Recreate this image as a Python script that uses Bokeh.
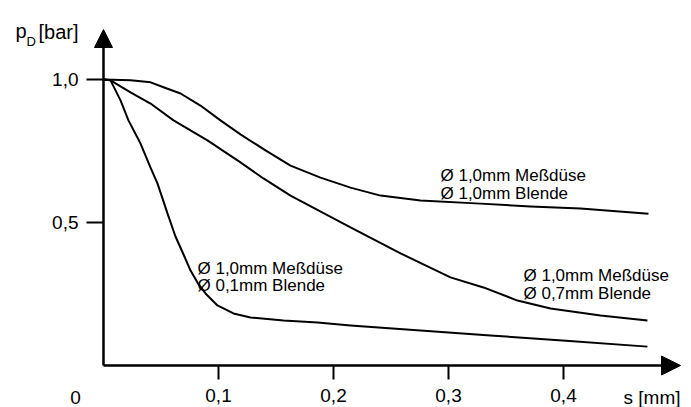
from bokeh.plotting import figure
from bokeh.models import (LinearAxis, FixedTicker, CustomJSTickFormatter, Arrow,
                          NormalHead, Label, Range1d, ColumnDataSource)
from bokeh.core.properties import value
from bokeh.embed import file_html
from bokeh.resources import INLINE

# ---------------- data ----------------
s_a = [0, 0.0235, 0.041, 0.0522, 0.0670, 0.0843, 0.1017, 0.1191, 0.1409, 0.1626, 0.1887,
       0.2148, 0.2409, 0.2757, 0.3278, 0.3713, 0.4148, 0.4739]
p_a = [1.0, 0.997, 0.99, 0.973, 0.951, 0.909, 0.857, 0.808, 0.752, 0.699, 0.657,
       0.622, 0.594, 0.577, 0.566, 0.556, 0.549, 0.531]

s_b = [0, 0.0061, 0.0235, 0.0409, 0.0609, 0.0904, 0.1191, 0.1391, 0.1626, 0.2148, 0.2583,
       0.3017, 0.3304, 0.3600, 0.3887, 0.4322, 0.4730]
p_b = [1.0, 0.997, 0.955, 0.916, 0.857, 0.787, 0.710, 0.654, 0.594, 0.483, 0.392,
       0.308, 0.273, 0.227, 0.199, 0.175, 0.157]

s_c = [0, 0.0061, 0.0148, 0.0217, 0.0322, 0.0409, 0.0470, 0.0557, 0.0626, 0.0696, 0.0757,
       0.0817, 0.0887, 0.0991, 0.1130, 0.1278, 0.1565, 0.1861, 0.2148, 0.2757, 0.3365,
       0.3991, 0.4730]
p_c = [1.0, 0.997, 0.927, 0.857, 0.776, 0.692, 0.636, 0.531, 0.451, 0.388, 0.332,
       0.290, 0.252, 0.210, 0.182, 0.168, 0.157, 0.150, 0.140, 0.122, 0.105,
       0.087, 0.066]

x_ticks = [0.1, 0.2, 0.3, 0.4]
y_ticks = [0.5, 1.0]

label_lines = ["Ø 1,0mm Meßdüse", "Ø 1,0mm Blende",
               "Ø 1,0mm Meßdüse", "Ø 0,1mm Blende",
               "Ø 1,0mm Meßdüse", "Ø 0,7mm Blende"]

# ---------------- layout (pixels on the page) ----------------
# Bokeh's page template has no body margin, so the figure fills the window.
W, H = 691, 407
ORG_X, ORG_Y = 103, 365       # page pixel of the origin
SX, SY = 1150.0, 286.0        # pixels per unit
PAGE = 0


def dx(px):
    return (px - ORG_X) / SX


def dy(py):
    return (ORG_Y - py) / SY


x_range = Range1d(dx(PAGE), dx(PAGE + W))
y_range = Range1d(dy(PAGE + H), dy(PAGE))

p = figure(width=W, height=H, x_range=x_range, y_range=y_range,
           output_backend="svg", toolbar_location=None,
           x_axis_type=None, y_axis_type=None, min_border=0)
p.outline_line_color = None
p.background_fill_color = "white"
p.border_fill_color = "white"

FONT = "Liberation Sans"
fmt = CustomJSTickFormatter(code="return tick.toFixed(1).replace('.', ',')")

xaxis = LinearAxis(fixed_location=0, ticker=FixedTicker(ticks=x_ticks), formatter=fmt,
                   axis_line_color=None, major_tick_out=14, major_tick_in=0,
                   major_tick_line_width=2, minor_tick_line_color=None,
                   major_label_text_font=FONT, major_label_text_font_size="19px",
                   major_label_text_color="black", major_label_standoff=9)
p.add_layout(xaxis, "below")

yaxis = LinearAxis(fixed_location=0, ticker=FixedTicker(ticks=y_ticks), formatter=fmt,
                   axis_line_color=None, major_tick_out=17, major_tick_in=0,
                   major_tick_line_width=2, minor_tick_line_color=None,
                   major_label_text_font=FONT, major_label_text_font_size="19px",
                   major_label_text_color="black", major_label_standoff=8)
p.add_layout(yaxis, "left")

# axis lines with arrow heads
p.add_layout(Arrow(x_start=0, y_start=0, x_end=dx(680), y_end=0, line_width=2.5,
                   end=NormalHead(size=19, fill_color="black", line_color="black", line_width=1)))
p.add_layout(Arrow(x_start=0, y_start=0, x_end=0, y_end=dy(29), line_width=2.5,
                   end=NormalHead(size=18, fill_color="black", line_color="black", line_width=1)))

# curves
for s_vals, p_vals in [(s_a, p_a), (s_b, p_b), (s_c, p_c)]:
    p.line(s_vals, p_vals, line_color="black", line_width=2, line_join="round")

# curve labels
lx = [440, 440, 197, 197, 523, 523]
ly = [175, 193, 268, 285, 275, 293]
src = ColumnDataSource(dict(x=[dx(v) for v in lx], y=[dy(v) for v in ly], t=label_lines))
p.text(x="x", y="y", text="t", source=src, text_font=value(FONT), text_font_size="17px",
       text_baseline="middle", text_align="left", text_color="black")

# origin and axis titles
common = dict(text_font=FONT, text_color="black")
p.add_layout(Label(x=dx(75), y=dy(397), text="0", text_font_size="19px",
                   text_align="center", text_baseline="middle", **common))
p.add_layout(Label(x=dx(680), y=dy(397), text="s [mm]", text_font_size="19px",
                   text_align="right", text_baseline="middle", **common))
p.add_layout(Label(x=dx(15), y=dy(30), text="p", text_font_size="20px",
                   text_align="left", text_baseline="alphabetic", **common))
p.add_layout(Label(x=dx(26), y=dy(41), text="D", text_font_size="13px",
                   text_align="left", text_baseline="alphabetic", **common))
p.add_layout(Label(x=dx(38), y=dy(31), text="[bar]", text_font_size="20px",
                   text_align="left", text_baseline="alphabetic", **common))

open("out.html", "w").write(file_html(p, INLINE))
